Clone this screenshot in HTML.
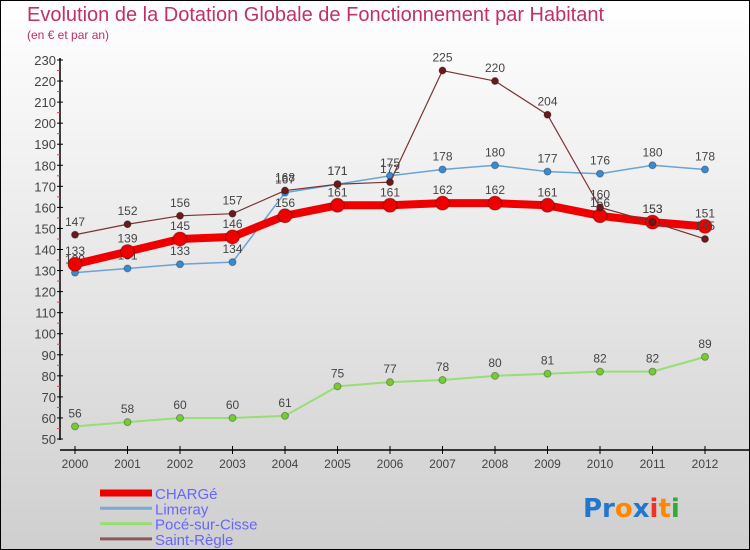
<!DOCTYPE html>
<html><head><meta charset="utf-8"><style>
body{margin:0;}
#wrap{width:750px;height:550px;position:relative;box-sizing:border-box;border:1px solid #000;background:linear-gradient(#ffffff,#cfcfcf);font-family:"Liberation Sans",sans-serif;overflow:hidden}
.t{position:absolute;color:#c0306a;white-space:nowrap}
</style></head><body>
<div id="wrap">
<div class="t" style="left:26px;top:3px;font-size:20px;">Evolution de la Dotation Globale de Fonctionnement par Habitant</div>
<div class="t" style="left:26px;top:27px;font-size:12px;">(en € et par an)</div>
<svg id="svg" width="750" height="550" style="position:absolute;left:-1px;top:-1px"></svg>
</div>
<script>
const years=[2000,2001,2002,2003,2004,2005,2006,2007,2008,2009,2010,2011,2012];
const yTicks=[50,60,70,80,90,100,110,120,130,140,150,160,170,180,190,200,210,220,230];
const charge=[133,139,145,146,156,161,161,162,162,161,156,153,151];
const limeray=[129,131,133,134,167,171,175,178,180,177,176,180,178];
const poce=[56,58,60,60,61,75,77,78,80,81,82,82,89];
const saint=[147,152,156,157,168,171,172,225,220,204,160,153,145];
const NS='http://www.w3.org/2000/svg';
const svg=document.getElementById('svg');
const X=i=>75+i*52.5;
const Y=v=>439-(v-50)*(379/180);
function mk(t,a,p){const e=document.createElementNS(NS,t);for(const k in a)e.setAttribute(k,a[k]);(p||svg).appendChild(e);return e;}
let e;
e=mk('line',{x1:60,y1:58,x2:60,y2:440,stroke:'#000','stroke-width':1.5});

e=mk('line',{x1:60,y1:450,x2:750,y2:450,stroke:'#000','stroke-width':1.5});

yTicks.forEach(v=>{
 mk('line',{x1:57,y1:Y(v),x2:63,y2:Y(v),stroke:'#000'});
 if(v<230) mk('line',{x1:57,y1:Y(v+5),x2:60,y2:Y(v+5),stroke:'#f33'});
 e=mk('text',{x:56,y:Y(v)+5,'text-anchor':'end','font-size':13,fill:'#444'});e.textContent=v;
 
});
years.forEach((y,i)=>{
 mk('line',{x1:X(i),y1:446,x2:X(i),y2:454,stroke:'#000'});
 e=mk('text',{x:X(i),y:468,'text-anchor':'middle','font-size':12,fill:'#444'});e.textContent=y;
 
});
function series(name,data,col,w,dot,r){
 const g=mk('g',{});
 mk('polyline',{points:data.map((v,i)=>X(i)+','+Y(v)).join(' '),fill:'none',stroke:col,'stroke-width':w,'stroke-linejoin':'round'},g);
 data.forEach((v,i)=>{
  const c=mk('circle',{cx:X(i),cy:Y(v),r:r,fill:dot,stroke:'rgba(0,0,0,0.3)'},g);
  
  const t=mk('text',{x:X(i),y:Y(v)-9,'text-anchor':'middle','font-size':12,fill:'#444'},g);t.textContent=v;
  
 });
}
series('limeray',limeray,'#6aa3d5',1.5,'#3a8ad0',3.5);
series('poce',poce,'#99dd77',2,'#77cc33',3.5);
series('charge',charge,'#ee0000',8,'#ee0000',7);
series('saint-regle',saint,'#7a3434',1.2,'#6a1a1a',3.5);
const leg=[['CHARGé','#ee0000',7],['Limeray','#7aaad0',3],['Pocé-sur-Cisse','#99dd77',3],['Saint-Règle','#8a5a5a',3]];
leg.forEach((l,i)=>{
 const y=493+i*15.3;
 const g=mk('g',{});
 mk('line',{x1:100,y1:y,x2:152,y2:y,stroke:l[1],'stroke-width':l[2]},g);
 const t=mk('text',{x:155,y:y+6,'font-size':15,fill:'#6666ff'},g);t.textContent=l[0];
});
const lg=mk('text',{x:583,y:517,'font-size':26,'font-weight':'bold','font-family':'DejaVu Sans, sans-serif'});

[['Pr','#2277cc'],['o','#ff8800'],['x','#2277cc'],['i','#ee3322'],['t','#ff8800'],['i','#33aa33']].forEach(p=>{const s=mk('tspan',{fill:p[1]},lg);s.textContent=p[0];});
</script>
</body></html>
